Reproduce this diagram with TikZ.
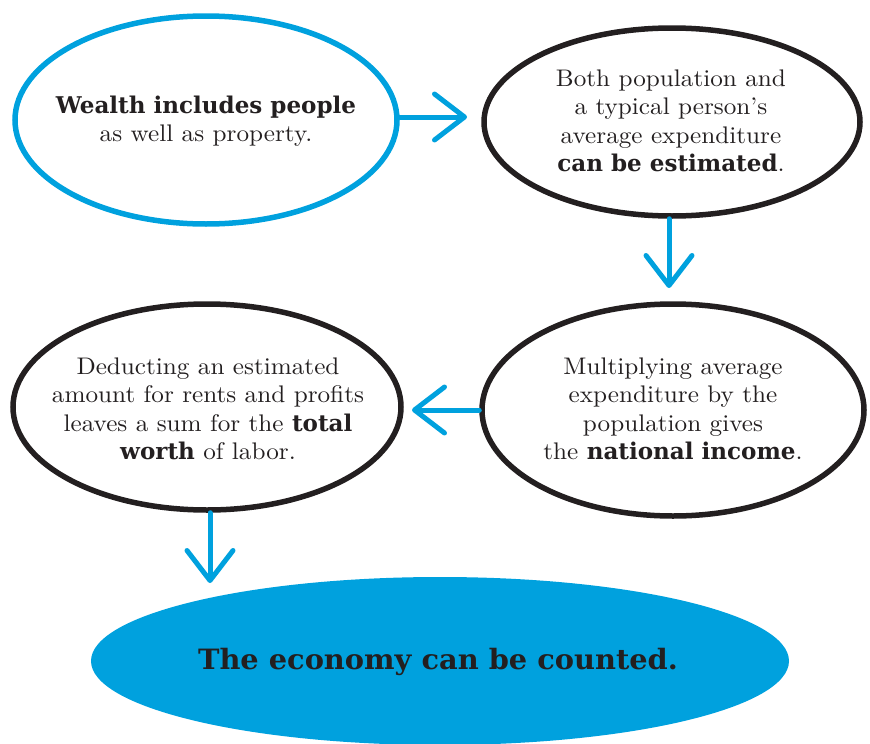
\documentclass[tikz,border=0pt]{standalone}
\usepackage{fontspec}
\setmainfont{lmroman10-regular.otf}[FakeStretch=1.05]
\newfontfamily\slabbold{DejaVu Serif}[Scale=0.96]
\newfontfamily\titlefont{DejaVu Serif}[FakeStretch=1.03]
\usetikzlibrary{shapes.geometric,arrows.meta}
\definecolor{cblue}{RGB}{0,161,222}
\definecolor{ink}{RGB}{35,31,32}
\newcommand{\hb}[1]{{\slabbold\bfseries #1}}
\tikzset{
  oval/.style={ellipse, draw=ink, line width=5.5pt, inner sep=0pt},
  blueoval/.style={ellipse, draw=cblue, line width=5.5pt, inner sep=0pt},
  filloval/.style={ellipse, fill=cblue, draw=none, inner sep=0pt},
  txt/.style={align=center, text=ink, inner sep=0pt, font=\fontsize{24}{28.5}\selectfont},
  arr/.style={draw=cblue, line width=5pt, line cap=round,
    -{Straight Barb[length=30pt, width=46pt, round]}}
}
\begin{document}
\begin{tikzpicture}[x=1pt, y=-1pt]
\useasboundingbox (0,0) rectangle (870,744);
% ovals
\node[blueoval, minimum width=382pt, minimum height=208pt] (e1) at (206,120) {};
\node[oval, minimum width=376pt, minimum height=188pt] (e2) at (672,122) {};
\node[oval, minimum width=382pt, minimum height=212pt] (e3) at (673,410) {};
\node[oval, minimum width=388pt, minimum height=206pt] (e4) at (207,407) {};
\node[filloval, minimum width=698pt, minimum height=168pt] (e5) at (440,661) {};
% texts
\node[txt] (t1) at (206,121) {\hb{Wealth includes people}\\as well as property.};
\node[txt] (t2) at (671,121) {Both population and\\a typical person’s\\average expenditure\\\hb{can be estimated}.};
\node[txt] (t3) at (673,409) {Multiplying average\\expenditure by the\\population gives\\the \hb{national income}.};
\node[txt] (t4) at (208,409) {Deducting an estimated\\amount for rents and profits\\leaves a sum for the \hb{total}\\\hb{worth} of labor.};
\node[text=ink, inner sep=0pt, font=\titlefont\bfseries\fontsize{28}{30}\selectfont] (t5) at (438,662) {The economy can be counted.};
% arrow tips
\coordinate (p1) at (467,117);
\coordinate (p2) at (669,288);
\coordinate (p3) at (412,410);
\coordinate (p4) at (210,583);
% connectors
\draw[arr] (e1.east |- p1) -- (p1);
\draw[arr] (e2.south -| p2) -- (p2);
\draw[arr] (e3.west |- p3) -- (p3);
\draw[arr] (e4.south -| p4) -- (p4);
\end{tikzpicture}
\end{document}
